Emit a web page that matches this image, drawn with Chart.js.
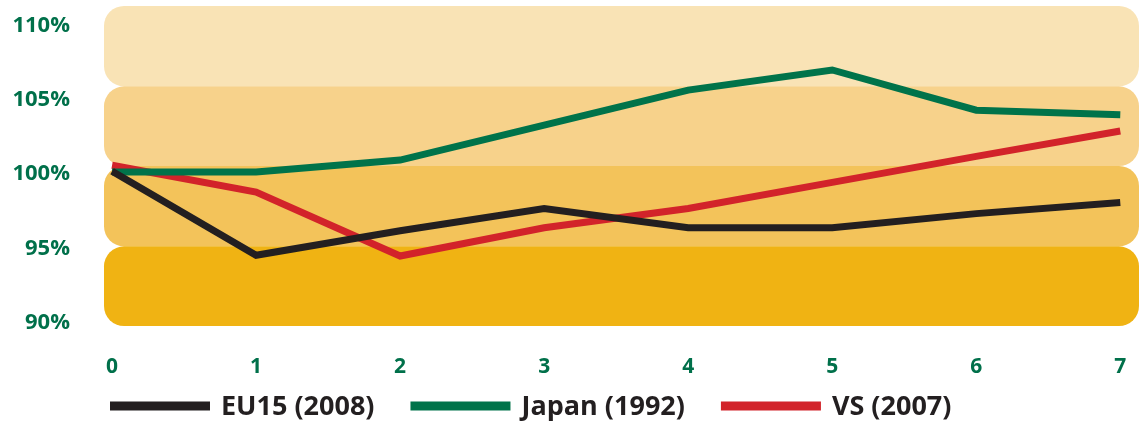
<!DOCTYPE html>
<html>
<head>
<meta charset="utf-8">
<script src="https://cdn.jsdelivr.net/npm/chart.js@4.4.0/dist/chart.umd.min.js"></script>
<style>
  html, body { margin: 0; padding: 0; background: #fff; }
  #wrap { width: 1139px; height: 423px; }
</style>
</head>
<body>
<div id="wrap"><canvas id="myChart"></canvas></div>
<script>
// jaren na het begin van de crisis
const years = [0, 1, 2, 3, 4, 5, 6, 7];
const eu15 = [100.2, 94.55, 96.2, 97.7, 96.4, 96.4, 97.35, 98.1];
const japan = [100.15, 100.15, 100.95, 103.3, 105.65, 107.0, 104.3, 104.0];
const vs = [100.6, 98.8, 94.5, 96.4, 97.7, 99.45, 101.2, 102.9];
const seriesNames = ['EU15 (2008)', 'Japan (1992)', 'VS (2007)'];
const yTicks = [90, 95, 100, 105, 110];
const xTicks = [0, 1, 2, 3, 4, 5, 6, 7];
// achtergrondbanden, van/tot in procenten
const bandFrom = [105.9, 100.55, 95.15, 89.8];
const bandTo = [111.3, 105.9, 100.55, 95.15];

const bandColors = ['#F9E3B5', '#F7D28B', '#F3C35A', '#F0B313'];
const lineColors = ['#231F20', '#00734A', '#D2232A'];
const green = '#00704A';

const ctx = document.getElementById('myChart');

const bandsPlugin = {
  id: 'bands',
  beforeDatasetsDraw(chart) {
    const c = chart.ctx;
    const a = chart.chartArea;
    const y = chart.scales.y;
    c.save();
    bandFrom.forEach((from, i) => {
      const top = y.getPixelForValue(bandTo[i]);
      const bottom = y.getPixelForValue(from);
      c.fillStyle = bandColors[i];
      c.beginPath();
      c.roundRect(a.left, top, a.right - a.left, bottom - top, 20);
      c.fill();
    });
    c.restore();
  }
};

// legenda met lijnstukken in plaats van vakjes
const legendPlugin = {
  id: 'lineLegend',
  afterDraw(chart) {
    const c = chart.ctx;
    const y = chart.chartArea.bottom + 80;
    let x = chart.chartArea.left + 6;
    c.save();
    c.font = 'bold 27px "Open Sans"';
    c.textBaseline = 'middle';
    chart.data.datasets.forEach(ds => {
      c.fillStyle = ds.borderColor;
      c.fillRect(x, y - 4.5, 100, 9);
      x += 100 + 11;
      c.fillStyle = '#231F20';
      c.fillText(ds.label, x, y + 1);
      x += c.measureText(ds.label).width + 36;
    });
    c.restore();
  }
};

const toPoints = values => years.map((x, i) => ({ x: x, y: values[i] }));

const myChart = new Chart(ctx, {
  type: 'line',
  data: {
    datasets: [
      { label: seriesNames[0], data: toPoints(eu15), borderColor: lineColors[0] },
      { label: seriesNames[1], data: toPoints(japan), borderColor: lineColors[1] },
      { label: seriesNames[2], data: toPoints(vs), borderColor: lineColors[2] },
    ],
  },
  options: {
    responsive: true,
    maintainAspectRatio: false,
    animation: false,
    layout: { padding: { top: 6, right: 0, bottom: 50, left: 0 } },
    elements: {
      line: { borderWidth: 7, tension: 0, borderJoinStyle: 'miter' },
      point: { radius: 0, hoverRadius: 0 }
    },
    plugins: {
      legend: { display: false },
      tooltip: { enabled: false }
    },
    scales: {
      x: {
        type: 'linear',
        min: -0.056,
        max: 7.13,
        grid: { display: false, drawTicks: false },
        border: { display: false },
        afterBuildTicks: s => { s.ticks = xTicks.map(v => ({ value: v })); },
        afterFit: s => {
          s.height = 47;
          s.paddingLeft = 0;
          s.paddingRight = 0;
        },
        ticks: {
          color: green,
          padding: 28,
          maxRotation: 0,
          font: { family: '"Open Sans"', size: 21, weight: 'bold' }
        }
      },
      y: {
        min: 89.8,
        max: 111.3,
        grid: { display: false, drawTicks: false },
        border: { display: false },
        afterBuildTicks: s => { s.ticks = yTicks.map(v => ({ value: v })); },
        afterFit: s => {
          s.width = 104;
          s.paddingTop = 0;
          s.paddingBottom = 0;
        },
        ticks: {
          color: green,
          padding: 34,
          font: { family: '"Open Sans"', size: 22, weight: 'bold' },
          callback: v => v + '%'
        }
      }
    }
  },
  plugins: [bandsPlugin, legendPlugin]
});
</script>
</body>
</html>
